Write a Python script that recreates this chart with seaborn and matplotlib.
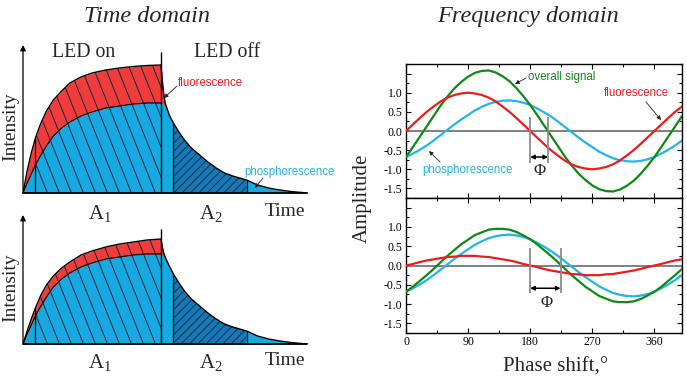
import numpy as np
import matplotlib
matplotlib.use("Agg")
import matplotlib.pyplot as plt
import seaborn as sns
from matplotlib.patches import Polygon
from matplotlib.ticker import MultipleLocator

# ---------------- data: time domain (time in units of LED-on period) -------------
t_rise = np.array([0, 0.03, 0.06, 0.09, 0.13, 0.17, 0.22, 0.28, 0.34, 0.42,
                   0.50, 0.60, 0.70, 0.80, 0.90, 1.00])
phos_rise = np.array([0, 0.10, 0.19, 0.28, 0.38, 0.47, 0.57, 0.65, 0.71, 0.77,
                      0.81, 0.85, 0.87, 0.89, 0.90, 0.90])
total_rise_top = np.array([0, 0.22, 0.40, 0.55, 0.70, 0.82, 0.93, 1.02, 1.10, 1.16,
                           1.20, 1.23, 1.25, 1.265, 1.275, 1.28])
total_rise_bot = np.array([0, 0.13, 0.25, 0.36, 0.49, 0.59, 0.68, 0.76, 0.82, 0.89,
                           0.93, 0.97, 1.00, 1.02, 1.04, 1.05])

t_dec = np.array([1.00, 1.01, 1.02, 1.03, 1.06, 1.09, 1.13, 1.17, 1.22, 1.28, 1.34,
                  1.40, 1.46, 1.52, 1.57, 1.62, 1.70, 1.78, 1.86, 1.94, 2.02, 2.06])
phos_dec = np.array([0.90, 0.89, 0.88, 0.86, 0.78, 0.70, 0.61, 0.53, 0.45, 0.38, 0.31,
                     0.25, 0.20, 0.17, 0.15, 0.13, 0.08, 0.05, 0.03, 0.015, 0.005, 0.0])
total_dec_top = np.array([1.28, 1.12, 0.99, 0.90, 0.78, 0.70, 0.61, 0.53, 0.45, 0.38, 0.31,
                          0.25, 0.20, 0.17, 0.15, 0.13, 0.08, 0.05, 0.03, 0.015, 0.005, 0.0])
total_dec_bot = np.array([1.05, 0.97, 0.91, 0.87, 0.78, 0.70, 0.61, 0.53, 0.45, 0.38, 0.31,
                          0.25, 0.20, 0.17, 0.15, 0.13, 0.08, 0.05, 0.03, 0.015, 0.005, 0.0])
A1_start, A2_start, A2_end = 0.09, 1.09, 1.62

# ---------------- data: frequency domain -------------
phase = np.arange(0, 401, 10)
fluor_top = [0.00, 0.17, 0.34, 0.50, 0.64, 0.77, 0.87, 0.94, 0.98, 1.00, 0.98, 0.94, 0.87,
             0.77, 0.64, 0.50, 0.34, 0.17, 0.00, -0.17, -0.34, -0.50, -0.64, -0.77, -0.87,
             -0.94, -0.98, -1.00, -0.98, -0.94, -0.87, -0.77, -0.64, -0.50, -0.34, -0.17,
             0.00, 0.17, 0.34, 0.50, 0.64]
phos_wave = [-0.68, -0.59, -0.49, -0.38, -0.25, -0.11, 0.03, 0.17, 0.30, 0.42, 0.54, 0.63,
             0.71, 0.76, 0.79, 0.80, 0.78, 0.74, 0.68, 0.59, 0.49, 0.38, 0.25, 0.11, -0.03,
             -0.17, -0.30, -0.42, -0.54, -0.63, -0.71, -0.76, -0.79, -0.80, -0.78, -0.74,
             -0.68, -0.59, -0.49, -0.38, -0.25]
overall_top = [-0.68, -0.42, -0.15, 0.12, 0.39, 0.66, 0.90, 1.11, 1.28, 1.42, 1.52, 1.57,
               1.58, 1.53, 1.43, 1.30, 1.12, 0.91, 0.68, 0.42, 0.15, -0.12, -0.39, -0.66,
               -0.90, -1.11, -1.28, -1.42, -1.52, -1.57, -1.58, -1.53, -1.43, -1.30, -1.12,
               -0.91, -0.68, -0.42, -0.15, 0.12, 0.39]
fluor_bot = [0.00, 0.04, 0.09, 0.13, 0.16, 0.19, 0.22, 0.23, 0.25, 0.25, 0.25, 0.23, 0.22,
             0.19, 0.16, 0.13, 0.09, 0.04, 0.00, -0.04, -0.09, -0.13, -0.16, -0.19, -0.22,
             -0.23, -0.25, -0.25, -0.25, -0.23, -0.22, -0.19, -0.16, -0.13, -0.09, -0.04,
             0.00, 0.04, 0.09, 0.13, 0.16]
overall_bot = [-0.68, -0.55, -0.40, -0.25, -0.09, 0.08, 0.25, 0.40, 0.55, 0.67, 0.79, 0.86,
               0.93, 0.95, 0.95, 0.93, 0.87, 0.78, 0.68, 0.55, 0.40, 0.25, 0.09, -0.08,
               -0.25, -0.40, -0.55, -0.67, -0.79, -0.86, -0.93, -0.95, -0.95, -0.93, -0.87,
               -0.78, -0.68, -0.55, -0.40, -0.25, -0.09]
phi_top = (180, 206)
phi_bot = (180, 224)
x_ticks = [0, 90, 180, 270, 360]
y_ticks = [-1.5, -1.0, -0.5, 0.0, 0.5, 1.0, 1.5]
y_ticklabels = ["-1.5", "-1.0", "-0.5", "0.0", "0.5", "1.0", ""]

# ---------------- style -------------
sns.set_theme(style="ticks")
plt.rcParams["font.family"] = ["Liberation Serif", "DejaVu Serif"]
plt.rcParams["mathtext.fontset"] = "stix"
plt.rcParams["hatch.linewidth"] = 0.6
plt.rcParams["axes.linewidth"] = 1.0

BLUE = "#19A9E2"
DARK = "#1877B5"
REDF = "#F23C3C"
HATCH = "#0E2A40"
plt.rcParams["hatch.color"] = HATCH
CYAN = "#22B5EC"
GREEN = "#0E8A14"
REDL = "#EE1C1C"
SANS = ["Liberation Sans", "DejaVu Sans"]

W, H = 687, 385
fig = plt.figure(figsize=(W / 100, H / 100), dpi=100)


def fx(px):
    return px / W


def fy(py):
    return 1 - py / H


def time_panel(ax, total_rise, total_dec, ymax, switch_top):
    t = np.concatenate([t_rise, t_dec])
    phos = np.concatenate([phos_rise, phos_dec])
    total = np.concatenate([total_rise, total_dec])
    ax.axis("off")
    ax.fill_between(t, 0, phos, color=BLUE, lw=0, zorder=1)
    ax.fill_between(t, phos, total, color=REDF, lw=0, zorder=1)
    m = (t >= A2_start) & (t <= A2_end)
    ax.fill_between(t[m], 0, phos[m], facecolor=DARK, edgecolor=HATCH,
                    hatch="////", lw=0, zorder=2)
    mr = t_rise >= A1_start
    verts = [(A1_start, 0)] + list(zip(t_rise[mr], total_rise[mr])) + [(1.0, 0)]
    poly = Polygon(verts, closed=True, facecolor="none", edgecolor="none")
    ax.add_patch(poly)
    for x0 in np.arange(A1_start, 1.0 + 0.3 * ymax, 0.087):
        ln, = ax.plot([x0, x0 - 0.29 * ymax], [0, ymax], color=HATCH, lw=0.7, zorder=3)
        ln.set_clip_path(poly)
    sns.lineplot(x=t, y=total, color="black", lw=1.0, ax=ax, estimator=None,
                 sort=False, zorder=4)
    sns.lineplot(x=t_rise, y=phos_rise, color="black", lw=0.9, ax=ax, estimator=None,
                 sort=False, zorder=4)
    i1 = list(t_rise).index(A1_start)
    ax.vlines(A1_start, 0, total_rise[i1], color="black", lw=0.9, zorder=4)
    ax.vlines(1.0, 0, switch_top, color="black", lw=1.0, zorder=4)
    i2 = list(t_dec).index(A2_start)
    i3 = list(t_dec).index(A2_end)
    ax.vlines([A2_start, A2_end], 0, [phos_dec[i2], phos_dec[i3]], color="black",
              lw=0.9, zorder=4)
    ax.plot([0, t_dec[-1]], [0, 0], color="black", lw=1.3, clip_on=False, zorder=5)
    ax.annotate("", xy=(0, ymax - 0.05), xytext=(0, 0), annotation_clip=False,
                arrowprops=dict(arrowstyle="-|>", color="black", lw=0.9,
                                mutation_scale=8, shrinkA=0, shrinkB=0))
    ax.set_xlim(0, 2.08)
    ax.set_ylim(0, ymax)


ax_tl = fig.add_axes([fx(23), fy(193), 287 / W, 153 / H])
ax_bl = fig.add_axes([fx(23), fy(344), 287 / W, 134 / H])
time_panel(ax_tl, total_rise_top, total_dec_top, 1.53, 1.41)
time_panel(ax_bl, total_rise_bot, total_dec_bot, 1.34, 1.15)


def freq_panel(ax, fl, ov, phi, phi_y, arrow_y, phi_lab, show_x):
    ax.axhline(0, color="#808080", lw=1.4, zorder=1)
    sns.lineplot(x=phase, y=phos_wave, color=CYAN, lw=1.6, ax=ax, estimator=None, zorder=2)
    sns.lineplot(x=phase, y=ov, color=GREEN, lw=1.6, ax=ax, estimator=None, zorder=3)
    sns.lineplot(x=phase, y=fl, color=REDL, lw=1.6, ax=ax, estimator=None, zorder=3)
    ax.vlines(phi, phi_y[0], phi_y[1], color="#8c8c8c", lw=1.3, zorder=4)
    ax.annotate("", xy=(phi[0], arrow_y), xytext=(phi[1], arrow_y),
                arrowprops=dict(arrowstyle="<|-|>", color="black", lw=1.1,
                                mutation_scale=6, shrinkA=0, shrinkB=0))
    ax.text(phi_lab[0], phi_lab[1], "Φ", ha="center", va="center", fontsize=12)
    ax.set_xlim(0, 400)
    ax.set_ylim(-1.75, 1.75)
    ax.set_xticks(x_ticks)
    ax.xaxis.set_minor_locator(MultipleLocator(45))
    ax.set_yticks(y_ticks)
    ax.set_yticklabels(y_ticklabels)
    ax.yaxis.set_minor_locator(MultipleLocator(0.25))
    ax.tick_params(which="both", direction="in", top=True, right=True,
                   labelsize=8.5, width=0.8, colors="black")
    ax.tick_params(which="major", length=3.5, pad=2.5)
    ax.tick_params(which="minor", length=2)
    ax.tick_params(labelbottom=show_x)
    for s in ax.spines.values():
        s.set_color("black")
        s.set_linewidth(1.0)
    ax.set_xlabel("")
    ax.set_ylabel("")


ax_tr = fig.add_axes([fx(406), fy(198), 276 / W, 134 / H])
ax_br = fig.add_axes([fx(406), fy(333), 276 / W, 135 / H])
freq_panel(ax_tr, fluor_top, overall_top, phi_top, (-0.84, 0.36), -0.68, (193, -1.05), False)
freq_panel(ax_br, fluor_bot, overall_bot, phi_bot, (-0.72, 0.46), -0.59, (203, -0.96), True)

# ---------------- texts -------------
fig.text(fx(147), fy(22), "Time domain", ha="center", va="baseline", fontsize=17.5,
         style="italic")
fig.text(fx(528), fy(22), "Frequency domain", ha="center", va="baseline", fontsize=17.5,
         style="italic")
fig.text(fx(84), fy(57), "LED on", ha="center", va="baseline", fontsize=14.3)
fig.text(fx(227), fy(57), "LED off", ha="center", va="baseline", fontsize=14.3)
for yb, yi in [(219, 127), (368, 288)]:
    fig.text(fx(88), fy(yb), r"$\mathregular{A_1}$", ha="left", va="baseline", fontsize=15)
    fig.text(fx(199), fy(yb), r"$\mathregular{A_2}$", ha="left", va="baseline", fontsize=15)
    fig.text(fx(265), fy(yb - 3), "Time", ha="left", va="baseline", fontsize=14)
    fig.text(fx(11), fy(yi), "Intensity", ha="center", va="center", rotation=90,
             fontsize=14)
fig.text(fx(362), fy(198), "Amplitude", ha="center", va="center", rotation=90,
         fontsize=15)
fig.text(fx(556), fy(367), "Phase shift,°", ha="center", va="center", fontsize=15)


def label(txt, x, y, color, ax_from, ax_to):
    fig.text(fx(x), fy(y), txt, ha="left", va="center", fontsize=8.3, color=color,
             family=SANS)
    fig.add_artist(matplotlib.patches.FancyArrowPatch(
        (fx(ax_from[0]), fy(ax_from[1])), (fx(ax_to[0]), fy(ax_to[1])),
        transform=fig.transFigure, arrowstyle="-|>", mutation_scale=6, lw=0.6,
        color="#222222", shrinkA=0, shrinkB=0))


label("fluorescence", 178, 83, "#EE1C1C", (177, 86), (164, 98))
label("phosphorescence", 244, 172, "#22B5EC", (263, 178), (255, 188))
label("overall signal", 528, 77, "#0E8A14", (526, 78), (515, 84))
label("fluorescence", 604, 93, "#EE1C1C", (646, 102), (661, 120))
label("phosphorescence", 422, 170, "#22B5EC", (440, 162), (429, 151))

fig.savefig("out.png", dpi=100)
